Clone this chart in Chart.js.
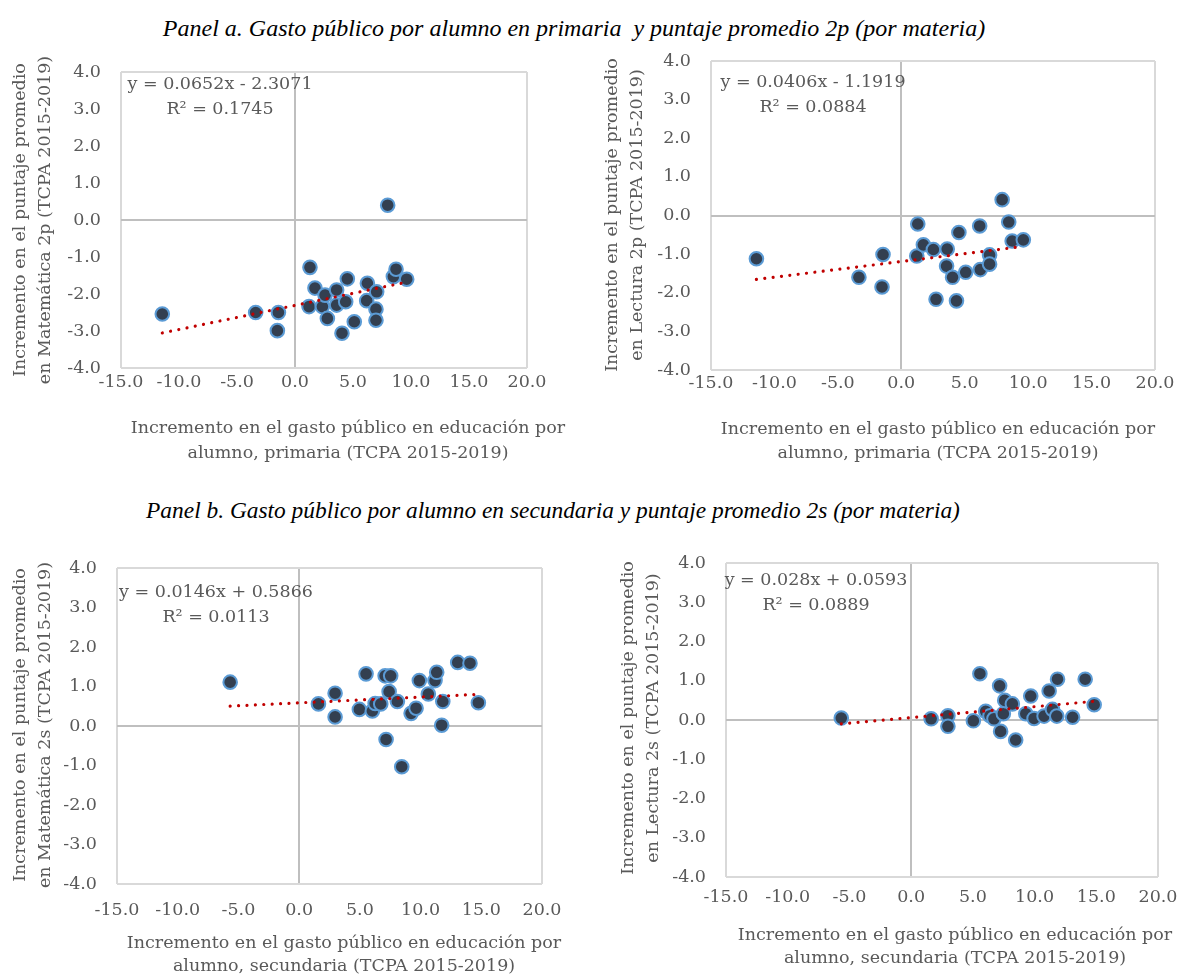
<!DOCTYPE html>
<html><head><meta charset="utf-8">
<script src="https://cdn.jsdelivr.net/npm/chart.js@4.4.1/dist/chart.umd.min.js"></script>
<style>
body{margin:0;background:#fff;width:1181px;height:977px;position:relative;overflow:hidden;}
.ptitle{position:absolute;font-family:"Liberation Serif";font-style:italic;font-size:24px;color:#000;white-space:pre;transform:translate(-50%,-50%);}
canvas{position:absolute;}
</style></head><body>
<div class="ptitle" id="ta" style="left:574px;top:28px"></div>
<div class="ptitle" id="tb" style="left:553px;top:510px;font-size:23.4px"></div>
<canvas id="c1"></canvas><canvas id="c2"></canvas><canvas id="c3"></canvas><canvas id="c4"></canvas>
<script>
// ---------- DATA ----------
const panelTitleA = "Panel a. Gasto público por alumno en primaria  y puntaje promedio 2p (por materia)";
const panelTitleB = "Panel b. Gasto público por alumno en secundaria y puntaje promedio 2s (por materia)";
const xTickValues = [-15, -10, -5, 0, 5, 10, 15, 20];
const yTickValues = [-4, -3, -2, -1, 0, 1, 2, 3, 4];

const mat2pX = [-11.44,-3.39,-1.43,-1.52,1.21,1.29,1.72,2.36,2.59,2.79,3.59,3.59,4.05,4.37,4.51,5.11,6.18,6.24,6.98,6.98,7.04,7.99,8.48,8.71,9.63];
const mat2pY = [-2.54,-2.50,-2.50,-2.99,-2.34,-1.28,-1.84,-2.34,-2.03,-2.66,-1.89,-2.30,-3.06,-2.21,-1.59,-2.75,-2.18,-1.71,-2.41,-2.71,-1.94,0.40,-1.53,-1.33,-1.60];

const lec2pX = [-11.42,-3.34,-1.44,-1.52,1.22,1.30,1.74,2.53,2.74,3.57,3.62,4.04,4.35,4.54,5.08,6.18,6.23,6.96,6.96,7.95,8.47,8.74,9.62];
const lec2pY = [-1.12,-1.60,-1.01,-1.85,-1.05,-0.22,-0.76,-0.88,-2.17,-1.31,-0.87,-1.60,-2.21,-0.44,-1.47,-0.27,-1.40,-1.02,-1.26,0.41,-0.17,-0.66,-0.63];

const mat2sX = [-5.68,1.59,2.96,2.96,4.96,5.51,6.03,6.26,6.72,7.08,7.16,7.41,7.54,8.09,8.45,9.22,9.63,9.90,10.64,11.19,11.33,11.74,11.83,13.06,14.07,14.76];
const mat2sY = [1.11,0.56,0.83,0.23,0.42,1.32,0.38,0.57,0.56,1.27,-0.34,0.87,1.27,0.62,-1.03,0.32,0.45,1.15,0.81,1.15,1.36,0.02,0.62,1.61,1.59,0.59];

const lec2sX = [-5.66,1.62,2.98,2.98,5.04,5.57,6.04,6.39,6.71,7.17,7.25,7.47,7.58,8.20,8.47,9.29,9.69,9.96,10.77,11.18,11.45,11.80,11.86,13.08,14.10,14.83];
const lec2sY = [0.05,0.03,0.11,-0.16,-0.02,1.18,0.22,0.11,0.03,0.87,-0.29,0.16,0.50,0.41,-0.51,0.16,0.61,0.04,0.10,0.74,0.27,0.10,1.04,0.07,1.04,0.39];

// trendline coefficients as printed on the chart
const trendSlope = [0.0652, 0.0406, 0.0146, 0.028];
const trendIntercept = [-2.3071, -1.1919, 0.5866, 0.0593];
const eqLabels = ["y = 0.0652x - 2.3071", "y = 0.0406x - 1.1919", "y = 0.0146x + 0.5866", "y = 0.028x + 0.0593"];
const r2Labels = ["R² = 0.1745", "R² = 0.0884", "R² = 0.0113", "R² = 0.0889"];

const yTitles = [
  ["Incremento en el puntaje promedio", "en Matemática 2p (TCPA 2015-2019)"],
  ["Incremento en el puntaje promedio", "en Lectura 2p (TCPA 2015-2019)"],
  ["Incremento en el puntaje promedio", "en Matemática 2s (TCPA 2015-2019)"],
  ["Incremento en el puntaje promedio", "en Lectura 2s (TCPA 2015-2019)"]
];
const xTitles = [
  ["Incremento en el gasto público en educación por", "alumno, primaria (TCPA 2015-2019)"],
  ["Incremento en el gasto público en educación por", "alumno, primaria (TCPA 2015-2019)"],
  ["Incremento en el gasto público en educación por", "alumno, secundaria (TCPA 2015-2019)"],
  ["Incremento en el gasto público en educación por", "alumno, secundaria (TCPA 2015-2019)"]
];

// ---------- LAYOUT ----------
document.getElementById('ta').textContent = panelTitleA;
document.getElementById('tb').textContent = panelTitleB;

const TXT = '#595959';
const FONT = '"DejaVu Serif"';
const FSIZE = 17.5;

const layouts = [
  {id:'c1', L:0,   T:45,  W:590, H:425, area:[121,72,527,368],  xPad:4,  yT:[20,45,220],  xT:[348,428,453], eq:[220,84]},
  {id:'c2', L:595, T:45,  W:586, H:425, area:[711,61,1155,370], xPad:3,  yT:[612,637,215],xT:[938,429,453], eq:[813,82]},
  {id:'c3', L:0,   T:545, W:590, H:432, area:[117,568,542,884], xPad:16, yT:[20,45,725],  xT:[344,943,966], eq:[216,592]},
  {id:'c4', L:595, T:545, W:586, H:432, area:[726,563,1158,877],xPad:10, yT:[628,653,718],xT:[955,935,958], eq:[816,580]}
];
const seriesX = [mat2pX, lec2pX, mat2sX, lec2sX];
const seriesY = [mat2pY, lec2pY, mat2sY, lec2sY];

const textPlugin = {
  id: 'txt',
  afterDraw(chart, args, o) {
    const ctx = chart.ctx;
    ctx.save();
    ctx.fillStyle = TXT;
    ctx.font = FSIZE + 'px ' + FONT;
    ctx.textAlign = 'center';
    ctx.textBaseline = 'middle';
    ctx.fillText(o.eq, o.eqX, o.eqY);
    ctx.fillText(o.r2, o.eqX, o.eqY + 25);
    ctx.fillText(o.xTitle[0], o.xTX, o.xTY1);
    ctx.fillText(o.xTitle[1], o.xTX, o.xTY2);
    ctx.translate(o.yTX1, o.yTY);
    ctx.rotate(-Math.PI / 2);
    ctx.fillText(o.yTitle[0], 0, 0);
    ctx.fillText(o.yTitle[1], 0, o.yTX2 - o.yTX1);
    ctx.restore();
  }
};

layouts.forEach((lay, i) => {
  const cv = document.getElementById(lay.id);
  cv.width = lay.W; cv.height = lay.H;
  cv.style.left = lay.L + 'px'; cv.style.top = lay.T + 'px';
  const [al, at, ar, ab] = lay.area;
  const xs = seriesX[i], ys = seriesY[i];
  const pts = xs.map((x, k) => ({x: x, y: ys[k]}));
  const xmin = Math.min(...xs), xmax = Math.max(...xs);
  const trend = [xmin, xmax].map(x => ({x: x, y: trendSlope[i] * x + trendIntercept[i]}));
  const gridColor = (c, lo, hi) => {
    const v = c.tick ? c.tick.value : null;
    if (v === 0) return '#bfbfbf';
    if (v === lo || v === hi) return '#d9d9d9';
    return 'rgba(0,0,0,0)';
  };
  new Chart(cv, {
    type: 'scatter',
    data: {
      datasets: [
        {type: 'line', data: trend, order: 0, borderColor: '#c00000', borderWidth: 3.2,
         borderDash: [0.01, 8.4], borderCapStyle: 'round', pointRadius: 0, fill: false, tension: 0},
        {type: 'scatter', data: pts, order: 1, backgroundColor: '#333f50', borderColor: '#5b9bd5',
         borderWidth: 2, pointRadius: 6.8, pointHoverRadius: 6.8}
      ]
    },
    options: {
      responsive: false, animation: false, events: [],
      layout: {padding: {left: 0, top: at - lay.T, right: lay.L + lay.W - ar, bottom: 0}},
      plugins: {
        legend: {display: false}, tooltip: {enabled: false},
        txt: {
          eq: eqLabels[i], r2: r2Labels[i], eqX: lay.eq[0] - lay.L, eqY: lay.eq[1] - lay.T,
          xTitle: xTitles[i], xTX: lay.xT[0] - lay.L, xTY1: lay.xT[1] - lay.T, xTY2: lay.xT[2] - lay.T,
          yTitle: yTitles[i], yTX1: lay.yT[0] - lay.L, yTX2: lay.yT[1] - lay.L, yTY: lay.yT[2] - lay.T
        }
      },
      scales: {
        x: {
          type: 'linear', min: xTickValues[0], max: xTickValues[xTickValues.length - 1],
          afterBuildTicks: s => { s.ticks = xTickValues.map(v => ({value: v})); },
          afterFit: s => { s.height = lay.T + lay.H - ab; s.paddingLeft = 0; s.paddingRight = 0; },
          ticks: {autoSkip: false, maxRotation: 0, padding: lay.xPad, color: TXT,
                  font: {family: 'DejaVu Serif', size: FSIZE}, callback: v => Number(v).toFixed(1)},
          grid: {drawTicks: false, lineWidth: 2, color: c => gridColor(c, xTickValues[0], xTickValues[xTickValues.length - 1])},
          border: {display: false}
        },
        y: {
          type: 'linear', min: yTickValues[0], max: yTickValues[yTickValues.length - 1],
          afterBuildTicks: s => { s.ticks = yTickValues.map(v => ({value: v})); },
          afterFit: s => { s.width = al - lay.L; s.paddingTop = 0; s.paddingBottom = 0; },
          ticks: {autoSkip: false, padding: 20, color: TXT,
                  font: {family: 'DejaVu Serif', size: FSIZE}, callback: v => Number(v).toFixed(1)},
          grid: {drawTicks: false, lineWidth: 2, color: c => gridColor(c, yTickValues[0], yTickValues[yTickValues.length - 1])},
          border: {display: false}
        }
      }
    },
    plugins: [textPlugin]
  });
});
</script>
</body></html>
